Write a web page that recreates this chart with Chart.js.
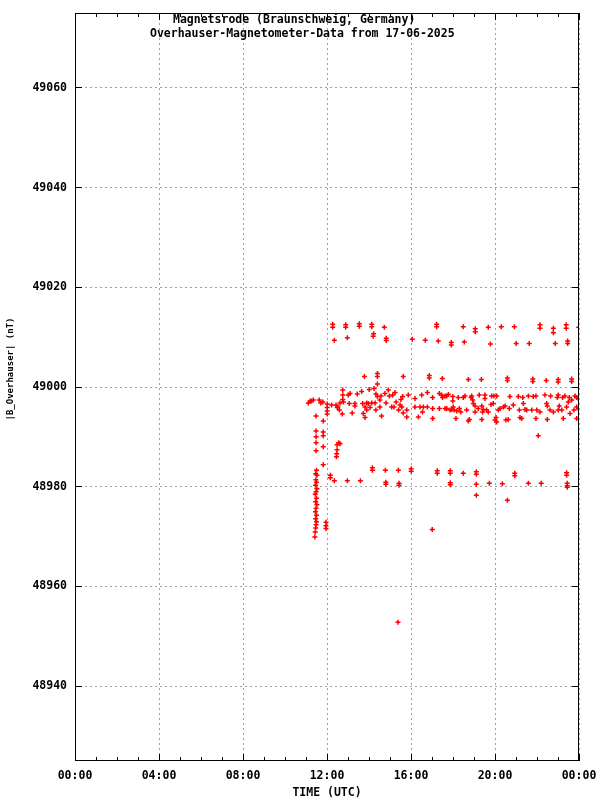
<!DOCTYPE html>
<html>
<head>
<meta charset="utf-8">
<script src="https://cdn.jsdelivr.net/npm/chart.js@4.4.1/dist/chart.umd.min.js"></script>
<style>
  html, body { margin: 0; padding: 0; background: #fff; }
</style>
</head>
<body>
<canvas id="magChart" width="600" height="800"></canvas>
<script>
// axis ticks
const xTicks = [0, 4, 8, 12, 16, 20, 24];
const xTickLabels = ["00:00", "04:00", "08:00", "12:00", "16:00", "20:00", "00:00"];
const yTicks = [48940, 48960, 48980, 49000, 49020, 49040, 49060];

// start of the record (~11:00 UTC) and the step down/up
const earlyHours = [11.11, 11.20, 11.27, 11.35, 11.63, 11.70, 11.80,
  11.48, 11.82, 11.48, 11.82, 11.82, 11.48, 11.48, 11.82, 11.48, 11.82,
  11.50, 11.46, 11.52, 11.47, 11.50, 11.45, 11.52, 11.48, 11.44, 11.50, 11.46, 11.52, 11.48, 11.45, 11.50, 11.46, 11.50, 11.48, 11.46, 11.44, 11.42,
  11.95, 11.95, 11.95,
  12.01, 12.01, 12.01, 12.01, 12.22,
  12.48, 12.56, 12.62, 12.48, 12.46, 12.45,
  12.16, 12.16, 12.35, 12.97, 13.59];
const earlyNT = [48996.8, 48997.2, 48997.2, 48997.4, 48997.4, 48996.8, 48997.0,
  48994.2, 48993.2, 48991.2, 48991.0, 48990.2, 48990.0, 48988.8, 48988.0, 48987.2, 48984.4,
  48983.3, 48982.6, 48982.3, 48981.4, 48980.9, 48980.3, 48979.6, 48979.0, 48978.5, 48977.7, 48977.0, 48976.4, 48975.7, 48975.0, 48974.3, 48973.6, 48973.0, 48972.4, 48971.7, 48970.9, 48969.9,
  48972.9, 48972.2, 48971.6,
  48996.6, 48995.9, 48995.2, 48994.6, 48996.4,
  48988.4, 48988.8, 48988.6, 48987.4, 48986.6, 48986.0,
  48982.3, 48981.8, 48981.2, 48981.2, 48981.2];

// main band around 48993 - 49000 nT
const bandHours = [12.43, 12.49, 12.52, 12.59, 12.62, 12.75, 12.75, 12.75, 12.78, 12.73,
  13.01, 13.10, 13.06, 13.20, 13.33, 13.33, 13.44, 13.65, 13.70, 13.81, 13.89, 13.73, 13.81, 13.89,
  14.01, 13.97, 14.13, 14.05, 14.24, 14.33, 14.33, 14.29, 14.40, 14.40, 14.52, 14.52, 14.60, 14.57,
  14.76, 14.92, 14.97, 14.81, 15.08, 15.19, 15.29, 15.13, 15.24, 15.48, 15.52, 15.60, 15.41, 15.56,
  15.63, 15.80, 15.87, 15.80, 16.19, 16.19, 16.35, 16.43, 16.51, 16.59, 16.55, 16.78, 16.78,
  17.03, 17.03, 17.03, 17.35, 17.46, 17.50, 17.62, 17.70, 17.70, 17.86, 17.78, 17.99, 17.99, 18.01,
  18.05, 18.25, 17.35, 17.62, 17.94, 18.14, 18.30, 18.37, 18.18, 18.49, 18.57, 18.65, 18.73, 18.78,
  18.86, 18.89, 18.94, 18.97, 19.05, 19.05, 19.20, 19.25, 19.37, 19.37, 19.41, 19.44, 19.52, 19.52,
  19.60, 19.68, 19.81, 19.84, 19.92, 19.95, 20.00, 20.05, 20.08, 20.08, 20.16, 20.24, 20.40, 20.48,
  20.52, 20.63, 20.68, 20.71, 20.87, 21.11, 21.16, 21.19, 21.27, 21.32, 21.35, 21.43, 21.51, 21.59,
  21.75, 21.82, 21.95, 21.95, 21.99, 22.14, 22.38, 22.46, 22.49, 22.49, 22.62, 22.65, 22.78, 22.97,
  23.01, 23.01, 23.06, 23.18, 23.22, 23.25, 23.33, 23.41, 23.49, 23.54, 23.57, 23.65, 23.76, 23.81,
  23.89, 23.89, 23.89, 23.97, 23.97];
const bandNT = [48996.4, 48995.9, 48996.0, 48995.4, 48996.8, 48999.4, 48998.4, 48997.5, 48997.0, 48994.6,
  48998.4, 48998.7, 48996.7, 48994.8, 48996.7, 48996.2, 48998.6, 48999.1, 48996.7, 48996.0, 48996.8, 48994.7, 48993.9, 48995.4,
  48999.5, 48996.7, 48996.8, 48995.9, 48999.7, 48998.6, 48995.4, 48996.8, 48998.1, 49000.6, 48997.4, 48996.0, 48994.2, 48998.2,
  48998.7, 48999.4, 48998.2, 48996.8, 48996.0, 48996.0, 48997.0, 48998.4, 48998.9, 48996.4, 48997.5, 48998.1, 48995.4, 48996.0,
  48994.8, 48994.0, 48998.4, 48995.4, 48997.7, 48996.0, 48994.0, 48996.0, 48998.4, 48996.0, 48995.0, 48996.0, 48998.9,
  48997.9, 48995.7, 48993.7, 48998.7, 48998.4, 48997.9, 48998.2, 48995.7, 48998.2, 48995.4, 48998.5, 48998.1, 48997.2, 48996.0,
  48995.4, 48997.9, 48995.7, 48995.7, 48995.5, 48993.7, 48995.7, 48995.0, 48995.2, 48997.9, 48998.2, 48995.4, 48993.2, 48993.5,
  48997.9, 48998.2, 48997.4, 48996.7, 48995.0, 48996.2, 48995.7, 48998.4, 48996.2, 48993.5, 48995.0, 48995.5, 48998.4, 48997.7,
  48995.4, 48995.0, 48996.5, 48998.2, 48996.7, 48998.2, 48993.4, 48993.9, 48998.2, 48993.0, 48995.4, 48995.7, 48996.0, 48996.2,
  48993.4, 48993.5, 48995.7, 48998.1, 48996.4, 48998.1, 48995.4, 48993.9, 48993.7, 48997.9, 48996.7, 48995.5, 48995.4, 48998.2,
  48995.4, 48998.1, 48998.2, 48993.7, 48995.4, 48995.0, 48998.4, 48996.7, 48996.2, 48993.5, 48995.4, 48998.2, 48995.0, 48997.9,
  48998.4, 48995.4, 48996.2, 48995.4, 48997.9, 48993.7, 48998.2, 48996.0, 48997.0, 48997.9, 48994.7, 48997.4, 48995.4, 48998.2,
  48996.0, 48997.9, 48993.7, 48997.7, 48995.7];

// upper levels (~49012, ~49009, ~49002 nT)
const upperHours = [12.27, 12.27, 12.89, 12.89, 13.54, 13.54, 14.13, 14.13, 14.73, 17.22, 17.22, 18.49,
  19.06, 19.06, 19.68, 20.30, 20.92, 22.14, 22.14, 22.78, 22.78, 23.39, 23.39, 23.99,
  12.35, 12.97, 14.20, 14.22, 14.82, 14.82, 16.06, 16.68, 17.30, 17.92, 17.92, 18.54, 19.78, 21.01,
  21.63, 22.87, 23.46, 23.46,
  13.78, 14.40, 14.40, 15.63, 16.87, 16.87, 17.49, 18.73, 19.35, 20.59, 20.59, 21.80, 21.80, 22.44,
  23.01, 23.01, 23.65, 23.65];
const upperNT = [49012.0, 49012.6, 49012.0, 49012.5, 49012.2, 49012.7, 49012.1, 49012.6, 49012.0, 49012.1, 49012.6, 49012.1,
  49011.7, 49011.1, 49012.0, 49012.1, 49012.1, 49011.8, 49012.5, 49011.8, 49010.9, 49011.8, 49012.5, 49012.0,
  49009.4, 49009.9, 49010.2, 49010.7, 49009.8, 49009.3, 49009.6, 49009.4, 49009.2, 49008.9, 49008.4, 49009.0, 49008.6, 49008.7,
  49008.7, 49008.7, 49008.7, 49009.2,
  49002.1, 49002.1, 49002.7, 49002.1, 49001.8, 49002.3, 49001.7, 49001.5, 49001.5, 49001.3, 49001.8, 49001.1, 49001.6, 49001.3,
  49001.0, 49001.5, 49001.1, 49001.6];

// lower levels (~48983, ~48980.5 nT) and single outliers
const lowerHours = [14.16, 14.16, 14.78, 15.40, 16.01, 16.01, 17.25, 17.25, 17.87, 17.87, 18.49, 19.11, 19.11,
  20.94, 20.94, 23.41, 23.41,
  14.80, 14.80, 15.43, 15.43, 17.87, 17.87, 19.11, 19.73, 20.35, 21.59, 22.20, 23.44, 23.44, 23.44,
  22.06, 19.11, 20.59, 17.01, 15.38];
const lowerNT = [48983.3, 48983.8, 48983.3, 48983.3, 48983.1, 48983.6, 48982.7, 48983.2, 48982.7, 48983.2, 48982.7, 48982.5, 48983.0,
  48982.2, 48982.7, 48982.3, 48982.8,
  48980.9, 48980.5, 48980.7, 48980.3, 48980.8, 48980.4, 48980.5, 48980.7, 48980.6, 48980.7, 48980.7, 48980.7, 48980.2, 48979.9,
  48990.2, 48978.3, 48977.3, 48971.4, 48952.8];

const hours = [...earlyHours, ...bandHours, ...upperHours, ...lowerHours];
const fieldNT = [...earlyNT, ...bandNT, ...upperNT, ...lowerNT];

const monoFont = "'DejaVu Sans Mono', 'Liberation Mono', monospace";
const tickFont = { family: monoFont, size: 11.5, weight: "bold" };

// gnuplot-like frame, tick marks and texts
const gnuFrame = {
  id: "gnuFrame",
  afterDatasetsDraw(chart) {
    const { ctx, chartArea: a, scales } = chart;
    const x = scales.x, y = scales.y;
    ctx.save();
    ctx.strokeStyle = "#000";
    ctx.lineWidth = 1;
    ctx.beginPath();
    for (let h = 0; h <= 24; h++) {
      const px = Math.round(x.getPixelForValue(h)) + 0.5;
      const len = h % 4 === 0 ? 7 : 4;
      ctx.moveTo(px, a.bottom);
      ctx.lineTo(px, a.bottom - len);
      ctx.moveTo(px, a.top);
      ctx.lineTo(px, a.top + len);
    }
    yTicks.forEach(v => {
      const py = Math.round(y.getPixelForValue(v) - 0.5) + 0.5;
      ctx.moveTo(a.left, py);
      ctx.lineTo(a.left + 7, py);
      ctx.moveTo(a.right, py);
      ctx.lineTo(a.right - 7, py);
    });
    ctx.stroke();
    ctx.strokeRect(Math.round(a.left) + 0.5, Math.round(a.top) + 0.5,
      Math.round(a.right - a.left) - 1, Math.round(a.bottom - a.top) - 1);

    ctx.fillStyle = "#000";
    ctx.font = "bold 11.5px " + monoFont;
    ctx.textBaseline = "middle";
    ctx.textAlign = "left";
    ctx.fillText("Magnetsrode (Braunschweig, Germany)", 173, 20);
    ctx.fillText("Overhauser-Magnetometer-Data from 17-06-2025", 150, 34);
    ctx.textAlign = "center";
    ctx.fillText("TIME (UTC)", 327, 793);
    ctx.save();
    ctx.translate(11, 369);
    ctx.rotate(-Math.PI / 2);
    ctx.font = "bold 9px " + monoFont;
    ctx.fillText("|B_Overhauser| (nT)", 0, 0);
    ctx.restore();
    ctx.restore();
  }
};

new Chart(document.getElementById("magChart"), {
  type: "scatter",
  data: {
    datasets: [{
      data: hours.map((h, i) => ({ x: h, y: fieldNT[i] })),
      pointStyle: "cross",
      pointRadius: 2.5,
      pointHoverRadius: 2.5,
      borderColor: "#ff0000",
      backgroundColor: "#ff0000",
      borderWidth: 1.5
    }]
  },
  options: {
    responsive: false,
    animation: false,
    events: [],
    layout: { padding: { top: 13, right: 21, left: 0, bottom: 0 } },
    plugins: { legend: { display: false }, tooltip: { enabled: false } },
    scales: {
      x: {
        type: "linear",
        min: 0,
        max: 24,
        afterBuildTicks: s => { s.ticks = xTicks.map(v => ({ value: v })); },
        afterFit: s => { s.height = 39; s.paddingLeft = 0; s.paddingRight = 0; },
        grid: { color: "#a0a0a0", lineWidth: 1, drawTicks: false },
        border: { display: false, dash: [2, 3] },
        ticks: {
          padding: 8,
          color: "#000",
          font: tickFont,
          maxRotation: 0,
          autoSkip: false,
          callback: (v, i) => xTickLabels[i]
        }
      },
      y: {
        type: "linear",
        min: 48925,
        max: 49075,
        afterBuildTicks: s => { s.ticks = yTicks.map(v => ({ value: v })); },
        afterFit: s => { s.width = 75; s.paddingTop = 0; s.paddingBottom = 0; },
        grid: { color: "#a0a0a0", lineWidth: 1, drawTicks: false },
        border: { display: false, dash: [2, 3] },
        ticks: {
          padding: 8,
          color: "#000",
          font: tickFont,
          autoSkip: false,
          callback: v => String(v)
        }
      }
    }
  },
  plugins: [gnuFrame]
});
</script>
</body>
</html>
